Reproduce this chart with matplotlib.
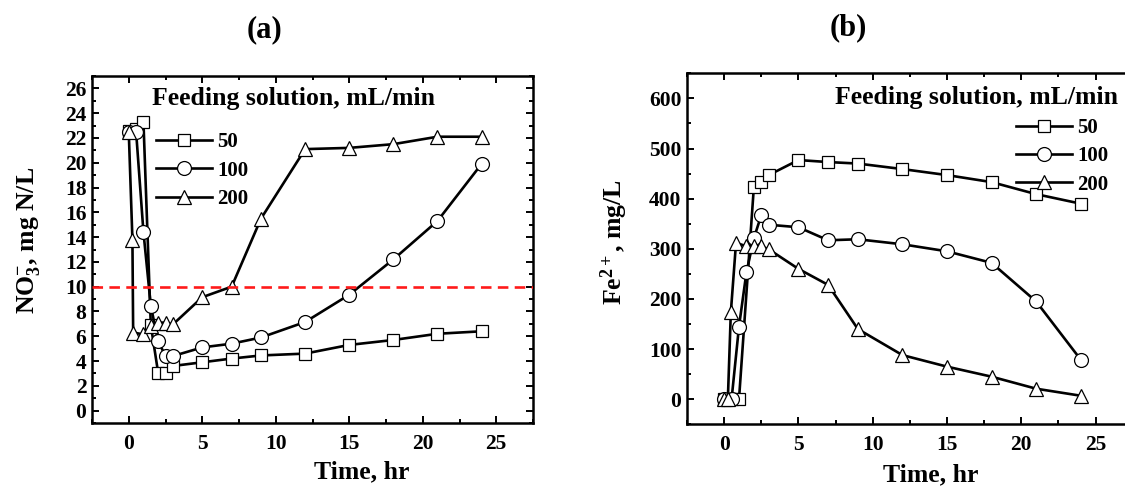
import matplotlib
matplotlib.use("Agg")
import matplotlib.pyplot as plt
from matplotlib.ticker import MultipleLocator

plt.rcParams["font.family"] = ["Liberation Serif", "DejaVu Serif"]
plt.rcParams["font.weight"] = "bold"
plt.rcParams["mathtext.fontset"] = "custom"
plt.rcParams["mathtext.rm"] = "Liberation Serif:bold"
plt.rcParams["mathtext.it"] = "Liberation Serif:bold"
plt.rcParams["mathtext.bf"] = "Liberation Serif:bold"

# ---- (a) nitrate, mg N/L ----
no3_t_50 = [0, 0.5, 1, 1.5, 2, 2.5, 3, 5, 7, 9, 12, 15, 18, 21, 24]
no3_50 = [22.6, 22.7, 23.3, 6.9, 3.05, 3.05, 3.6, 3.9, 4.2, 4.45, 4.6, 5.3, 5.7, 6.2, 6.4]
no3_t_100 = [0, 0.5, 1, 1.5, 2, 2.5, 3, 5, 7, 9, 12, 15, 18, 21, 24]
no3_100 = [22.5, 22.5, 14.4, 8.45, 5.6, 4.4, 4.4, 5.1, 5.4, 5.9, 7.15, 9.35, 12.2, 15.3, 19.9]
no3_t_200 = [0, 0.25, 0.3, 1, 1.5, 2, 2.5, 3, 5, 7, 9, 12, 15, 18, 21, 24]
no3_200 = [22.5, 13.8, 6.3, 6.15, 6.8, 7.1, 7.1, 6.95, 9.15, 10.0, 15.5, 21.1, 21.2, 21.5, 22.1, 22.1]
no3_limit = 10

# ---- (b) ferrous iron, mg/L ----
fe_t_50 = [0, 0.5, 1, 2, 2.5, 3, 5, 7, 9, 12, 15, 18, 21, 24]
fe_50 = [0, 0, 0, 423, 433, 447, 477, 473, 470, 459, 447, 433, 409, 390]
fe_t_100 = [0, 0.5, 1, 1.5, 2, 2.5, 3, 5, 7, 9, 12, 15, 18, 21, 24]
fe_100 = [0, 0, 145, 253, 321, 367, 348, 343, 317, 319, 309, 295, 272, 195, 79]
fe_t_200 = [0, 0.25, 0.45, 0.8, 1.5, 2, 2.5, 3, 5, 7, 9, 12, 15, 18, 21, 24]
fe_200 = [0, 0, 173, 312, 305, 305, 305, 299, 260, 228, 140, 88, 65, 45, 21, 7]

flow_labels = ["50", "100", "200"]
markers = ["s", "o", "^"]

W, H = 1125, 487
fig = plt.figure(figsize=(W / 100, H / 100), dpi=100)

ax_a = fig.add_axes([92 / W, (H - 423) / H, (533 - 92) / W, (423 - 76) / H])
ax_b = fig.add_axes([687 / W, (H - 424.3) / H, (1132.7 - 687) / W, (424.3 - 73.3) / H])

line_kw = dict(color="black", lw=1.9, mfc="white", mec="black", mew=0.9)
marker_sizes = {"s": 9, "o": 10, "^": 10.5}


def draw(ax, series):
    handles = []
    for (t, v), m, lab in zip(series, markers, flow_labels):
        h, = ax.plot(t, v, marker=m, ms=marker_sizes[m], label=lab, **line_kw)
        handles.append(h)
    return handles


def style(ax, ymaj, ymin):
    ax.set_xlim(-2.5, 27.5)
    ax.xaxis.set_major_locator(MultipleLocator(5))
    ax.xaxis.set_minor_locator(MultipleLocator(2.5))
    ax.yaxis.set_major_locator(MultipleLocator(ymaj))
    ax.yaxis.set_minor_locator(MultipleLocator(ymin))
    ax.tick_params(which="both", direction="in", top=True, right=True, width=1.4)
    ax.tick_params(which="major", length=5)
    ax.tick_params(which="minor", length=3)
    ax.tick_params(axis="x", which="major", pad=8, labelsize=15.5)
    ax.tick_params(axis="y", which="major", pad=4, labelsize=15.5)
    for lab in ax.get_xticklabels() + ax.get_yticklabels():
        lab.set_fontweight("bold")
    for s in ax.spines.values():
        s.set_linewidth(1.8)
    ax.set_xlabel("Time, hr", fontsize=18.5, fontweight="bold")


# panel (a)
ha = draw(ax_a, [(no3_t_50, no3_50), (no3_t_100, no3_100), (no3_t_200, no3_200)])
ax_a.axhline(no3_limit, color="#ff1a1a", lw=1.9, dashes=(4, 2.4), zorder=3)
ax_a.set_ylim(-1, 27)
style(ax_a, 2, 1)
ax_a.set_ylabel(r"NO$_{3}^{-}$, mg N/L", fontsize=18.5, fontweight="bold")
ax_a.yaxis.set_label_coords(-0.113, 0.527)
ax_a.xaxis.set_label_coords(0.612, -0.107)
ax_a.text(0.136, 0.934, "Feeding solution, mL/min", transform=ax_a.transAxes,
          fontsize=18.5, fontweight="bold", ha="left", va="center")
ax_a.legend(handles=ha, loc="upper left", bbox_to_anchor=(0.145, 0.838),
            frameon=False, numpoints=1, handlelength=2.7,
            handletextpad=0.25, labelspacing=0.4, borderpad=0, borderaxespad=0,
            prop={"weight": "bold", "size": 15})
fig.text(265 / W, 1 - 30 / H, "(a)", fontsize=22, fontweight="bold", ha="center", va="center")

# panel (b)
hb = draw(ax_b, [(fe_t_50, fe_50), (fe_t_100, fe_100), (fe_t_200, fe_200)])
ax_b.set_ylim(-50, 650)
style(ax_b, 100, 50)
ax_b.set_ylabel(r"Fe$^{2+}$, mg/L", fontsize=18.5, fontweight="bold")
ax_b.yaxis.set_label_coords(-0.128, 0.518)
ax_b.xaxis.set_label_coords(0.547, -0.110)
ax_b.text(0.967, 0.93, "Feeding solution, mL/min", transform=ax_b.transAxes,
          fontsize=18.5, fontweight="bold", ha="right", va="center")
ax_b.legend(handles=hb, loc="upper left", bbox_to_anchor=(0.738, 0.873),
            frameon=False, numpoints=1, handlelength=2.7,
            handletextpad=0.25, labelspacing=0.4, borderpad=0, borderaxespad=0,
            prop={"weight": "bold", "size": 15})
fig.text(848 / W, 1 - 28 / H, "(b)", fontsize=22, fontweight="bold", ha="center", va="center")

fig.savefig("out.png", dpi=100)
